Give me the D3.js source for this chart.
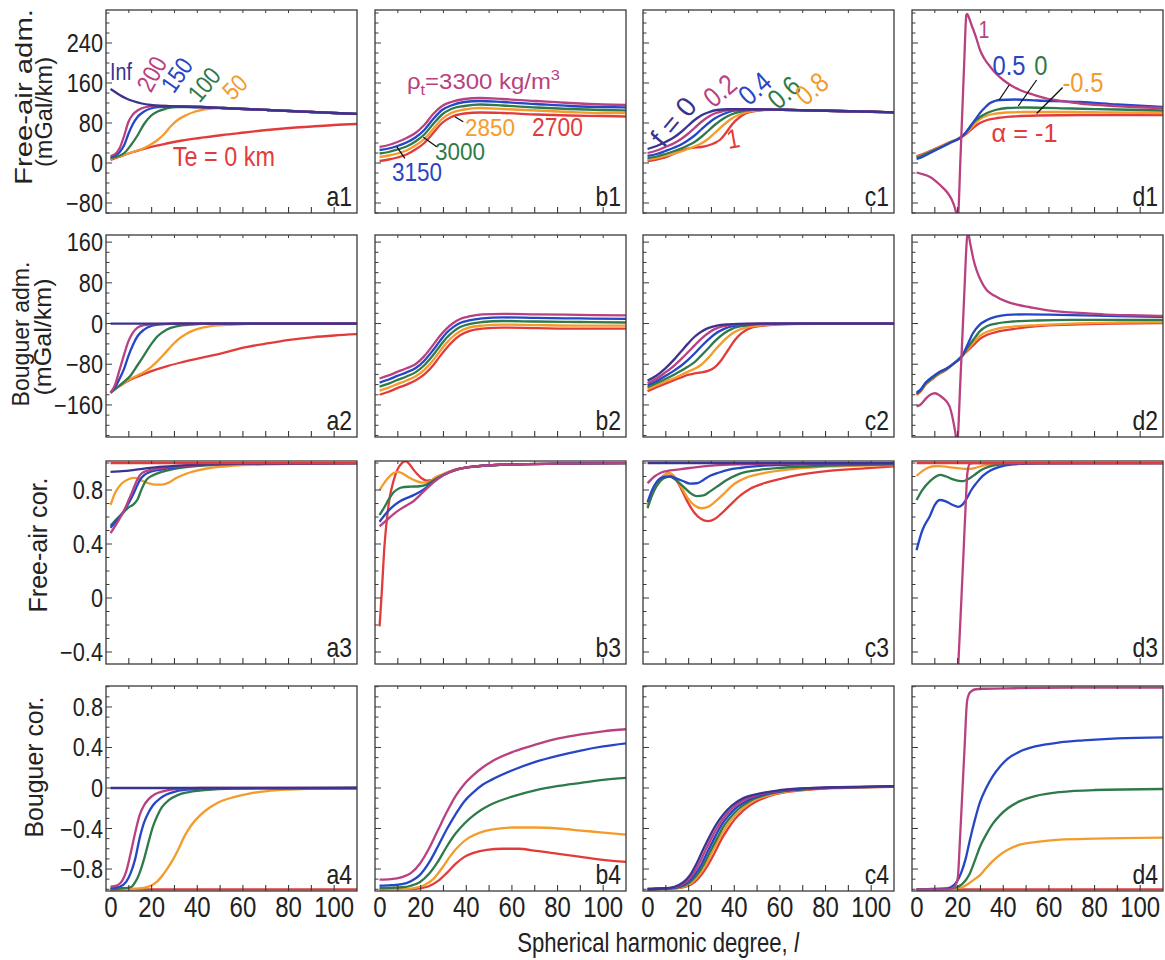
<!DOCTYPE html>
<html>
<head>
<meta charset="utf-8">
<script src="https://cdn.jsdelivr.net/npm/d3@7"></script>
<style>
  body { margin: 0; background: #fff; }
  text { font-family: "Liberation Sans", Arial, Helvetica, sans-serif; }
</style>
</head>
<body>
<svg id="fig" width="1165" height="960"></svg>
<script>
// ---------- colours ----------
const IND = "#3a3390", MAG = "#b9417f", BLU = "#2746c6", GRN = "#2f7a4b", ORG = "#f39b2b", RED = "#e23c3a";

// ---------- axes ----------
const degreeDomain = [0, 110];
const degreeTickValues = [10, 20, 30, 40, 50, 60, 70, 80, 90, 100];
const degreeLabels = [0, 20, 40, 60, 80, 100];
const rowDomains = [[-100, 306], [-223, 174], [-0.489, 1.015], [-1.017, 1.007]];
const rowMajor = [[-80, 0, 80, 160, 240], [-160, -80, 0, 80, 160], [-0.4, 0, 0.4, 0.8], [-0.8, -0.4, 0, 0.4, 0.8]];
const rowMajorText = [["\u221280", "0", "80", "160", "240"], ["\u2212160", "\u221280", "0", "80", "160"],
                      ["\u22120.4", "0", "0.4", "0.8"], ["\u22120.8", "\u22120.4", "0", "0.4", "0.8"]];
const rowMinorStep = [20, 20, 0.1, 0.1];

// ---------- column a : elastic thickness Te ----------
const a1Tail = [[41.2,112],[51,110],[60.8,108],[70.6,106],[80.4,104],[90.2,102],[100,100],[110,98]];
const a1Inf = [[2,148],[4,142],[6,136],[8.9,129],[11.8,124],[15.7,119],[19.6,116],[25.5,114],[31.4,113], ...a1Tail];
const a1T200 = [[2,14],[4,18],[6,30],[8,55],[9.8,82],[11.8,97],[13.8,105],[16.7,111],[21.6,114],[26.5,114],[31.4,113], ...a1Tail];
const a1T150 = [[2,12],[4,15],[6,22],[8,36],[9.8,58],[11.8,78],[13.8,92],[16.7,103],[19.6,109],[23.6,112],[27.5,113],[31.4,113], ...a1Tail];
const a1T100 = [[2,10],[5,13],[8,20],[10.8,35],[13.8,55],[16.7,78],[19.6,94],[22.6,103],[26.5,109],[31.4,112],[36,112], ...a1Tail];
const a1T50 = [[2,8],[6,13],[9.8,19],[13.8,25],[16.7,30],[19.6,37],[22.6,46],[25.5,58],[28.5,74],[31.4,86],[35.3,96],[39.2,103],[44,108],[51,110],[60.8,108],[70.6,106],[80.4,104],[90.2,102],[100,100],[110,98]];
const a1T0 = [[2,6],[5,11],[8,16],[11.8,22],[15.7,27],[19.6,32],[26.5,39],[33.4,45],[41.2,50],[51,56],[60.8,61],[70.6,66],[80.4,70],[90.2,73],[100,76],[110,78]];

const a2Inf = [[2,0],[110,0]];
const a2T200 = [[2,-136],[4,-120],[6,-90],[8,-60],[9.8,-35],[11.8,-18],[13.8,-8],[16.7,-3],[21.6,-1],[31.4,0],[110,0]];
const a2T150 = [[2,-136],[4,-125],[6,-108],[8,-88],[9.8,-64],[11.8,-42],[13.8,-25],[16.7,-12],[19.6,-5],[25.5,-1],[31.4,0],[110,0]];
const a2T100 = [[2,-136],[5,-125],[8,-114],[10.8,-102],[13.8,-82],[16.7,-62],[19.6,-42],[22.6,-25],[26.5,-12],[31.4,-5],[37.3,-2],[46,0],[110,0]];
const a2T50 = [[2,-136],[6,-122],[9.8,-111],[13.8,-102],[16.7,-95],[19.6,-86],[22.6,-74],[25.5,-60],[28.5,-45],[31.4,-32],[35.3,-20],[39.2,-12],[46,-5],[56,-2],[66,0],[110,0]];
const a2T0 = [[2,-136],[5,-126],[8,-117],[11.8,-108],[15.7,-101],[19.6,-94],[26.5,-84],[33.4,-76],[41.2,-68],[51,-58],[60.8,-47],[70.6,-39],[80.4,-32],[90.2,-27],[100,-23.5],[110,-21]];

const a3Inf = [[2,0.935],[7,0.94],[11.8,0.948],[16.7,0.958],[21.6,0.968],[31.4,0.98],[41.2,0.988],[60.8,0.995],[110,1]];
const a3T200 = [[2,0.48],[5,0.56],[8,0.65],[9.8,0.72],[11.8,0.8],[13.8,0.88],[15.7,0.925],[18.7,0.945],[23.6,0.96],[31.4,0.975],[41.2,0.985],[60.8,0.995],[110,1]];
const a3T150 = [[2,0.52],[5,0.58],[8,0.65],[10.8,0.73],[12.8,0.8],[14.7,0.87],[16.7,0.91],[19.6,0.935],[23.6,0.95],[31.4,0.97],[41.2,0.985],[60.8,0.995],[110,1]];
const a3T100 = [[2,0.535],[5,0.59],[8,0.64],[9.8,0.67],[11.8,0.69],[13.8,0.73],[15.7,0.81],[17.7,0.875],[20.6,0.91],[24.5,0.935],[29.4,0.955],[35.3,0.97],[46,0.985],[60.8,0.993],[110,1]];
const a3T50 = [[2,0.69],[4,0.78],[7,0.85],[9.8,0.88],[12.8,0.89],[15.7,0.87],[18.7,0.85],[21.6,0.84],[24.5,0.84],[27.5,0.855],[30.4,0.885],[34.3,0.915],[40.2,0.945],[46,0.965],[56,0.98],[70.6,0.99],[110,1]];
const a3T0 = [[2,1],[110,1]];

const a4Inf = [[2,0],[110,0]];
const a4T200 = [[2,-0.975],[5,-0.96],[7,-0.92],[8.9,-0.82],[10.8,-0.645],[12.8,-0.44],[14.7,-0.27],[16.7,-0.17],[18.7,-0.11],[21.6,-0.06],[24.5,-0.035],[28.5,-0.015],[33.4,-0.005],[41.2,0],[110,0]];
const a4T150 = [[2,-0.99],[6,-0.975],[8.9,-0.925],[10.8,-0.84],[12.8,-0.7],[14.7,-0.5],[16.7,-0.34],[18.7,-0.24],[20.6,-0.17],[23.6,-0.105],[26.5,-0.065],[30.4,-0.035],[36.3,-0.015],[46,-0.003],[110,0]];
const a4T100 = [[2,-1],[7,-0.99],[10.8,-0.98],[12.8,-0.93],[14.7,-0.84],[16.7,-0.7],[18.7,-0.53],[20.6,-0.38],[22.6,-0.27],[24.5,-0.19],[27.5,-0.12],[31.4,-0.07],[36.3,-0.04],[43.2,-0.02],[56,-0.005],[110,0]];
const a4T50 = [[2,-1],[11.8,-0.995],[16.7,-0.985],[19.6,-0.965],[22.6,-0.92],[25.5,-0.84],[28.5,-0.74],[31.4,-0.62],[34.3,-0.48],[37.3,-0.37],[41.2,-0.27],[45,-0.2],[49,-0.145],[56,-0.09],[62.8,-0.055],[70.6,-0.03],[80.4,-0.015],[95,-0.005],[110,0]];
const a4T0 = [[2,-1],[110,-1]];

// ---------- column b : top-layer density ----------
const b1R3300 = [[2,32],[6,36],[9.8,42],[13.8,50],[17.7,60],[21.6,76],[25.5,98],[29.4,114],[33.4,122],[39.2,128],[46,130],[56,128],[70.6,124],[85.3,120],[100,117],[110,116]];
const b1R3150 = [[2,26],[6,29],[9.8,34],[13.8,41],[17.7,51],[21.6,66],[25.5,88],[29.4,106],[33.4,115],[39.2,122],[46,124],[56,122],[70.6,118],[85.3,114],[100,112],[110,111]];
const b1R3000 = [[2,19],[6,22],[9.8,27],[13.8,33],[17.7,43],[21.6,57],[25.5,78],[29.4,97],[33.4,108],[39.2,114],[46,117],[56,115],[70.6,111],[85.3,108],[100,106],[110,105]];
const b1R2850 = [[2,12],[6,15],[9.8,19],[13.8,25],[17.7,35],[21.6,48],[25.5,68],[29.4,88],[33.4,100],[39.2,107],[46,110],[56,108],[70.6,105],[85.3,102],[100,100],[110,100]];
const b1R2700 = [[2,4],[6,7],[9.8,11],[13.8,17],[17.7,27],[21.6,40],[25.5,60],[29.4,80],[33.4,92],[39.2,99],[46,101],[56,100],[70.6,97],[85.3,95],[100,94],[110,93]];

const b2Degree = [2, 6, 9.8, 13.8, 17.7, 21.6, 25.5, 28.5, 31.4, 34.3, 37.3, 41.2, 47, 56, 70.6, 90, 110];
const b2R3300 = [-108,-102,-95,-88,-80,-64,-42,-24,-10,1,9,14,18,19,18,17,16];
const b2R3150 = [-116,-110,-103,-96,-88,-73,-52,-34,-18,-7,1,6,10,12,11,10,9];
const b2R3000 = [-124,-118,-111,-104,-96,-82,-62,-44,-28,-16,-7,-1,3,5,4,3,2];
const b2R2850 = [-132,-126,-119,-112,-104,-91,-72,-54,-38,-25,-15,-8,-4,-2,-3,-4,-4];
const b2R2700 = [-140,-134,-127,-120,-112,-100,-82,-64,-48,-34,-23,-15,-10,-8,-9,-10,-10];

const b3R3300 = [[2,0.53],[5,0.575],[8,0.62],[10.8,0.655],[13.8,0.685],[16.7,0.715],[19.6,0.76],[22.6,0.81],[25.5,0.855],[28.5,0.895],[32.4,0.93],[37.3,0.958],[46,0.978],[60.8,0.99],[80.4,0.995],[110,1]];
const b3R3150 = [[2,0.565],[5,0.63],[8,0.68],[10.8,0.715],[13.8,0.74],[16.7,0.76],[19.6,0.785],[22.6,0.82],[25.5,0.86],[28.5,0.895],[32.4,0.93],[37.3,0.958],[46,0.978],[60.8,0.99],[80.4,0.995],[110,1]];
const b3R3000 = [[2,0.615],[4,0.67],[6,0.73],[8,0.78],[9.8,0.805],[11.8,0.82],[15.7,0.825],[19.6,0.828],[22.6,0.84],[25.5,0.87],[28.5,0.9],[32.4,0.93],[37.3,0.958],[46,0.978],[60.8,0.99],[80.4,0.995],[110,1]];
const b3R2850 = [[2,0.8],[5,0.875],[8,0.925],[9.8,0.935],[11.8,0.925],[14.7,0.895],[17.7,0.87],[20.6,0.855],[23.6,0.86],[26.5,0.895],[29.4,0.915],[33.4,0.94],[38.3,0.962],[46,0.978],[60.8,0.99],[80.4,0.995],[110,1]];
const b3R2700 = [[2,-0.21],[3,0.05],[4,0.35],[5,0.55],[6.4,0.74],[8,0.86],[9.8,0.95],[11.8,1.0],[13.3,1.012],[14.7,1.0],[16.7,0.955],[18.7,0.915],[20.6,0.885],[22.6,0.87],[25.5,0.875],[28.5,0.905],[32.4,0.935],[37.3,0.96],[43.2,0.975],[51,0.985],[60.8,0.99],[80.4,0.995],[110,1]];

const b4R3300 = [[2,-0.905],[7,-0.9],[11.8,-0.88],[15.7,-0.84],[19.6,-0.75],[23.6,-0.6],[27.5,-0.42],[31.4,-0.24],[35.3,-0.08],[39.2,0.04],[43.2,0.13],[47,0.2],[51,0.26],[60.8,0.36],[70.6,0.43],[80.4,0.49],[90.2,0.53],[100,0.56],[110,0.58]];
const b4R3150 = [[2,-0.965],[7,-0.96],[11.8,-0.95],[15.7,-0.92],[19.6,-0.86],[23.6,-0.74],[27.5,-0.58],[31.4,-0.41],[35.3,-0.26],[39.2,-0.13],[43.2,-0.04],[47,0.03],[51,0.08],[60.8,0.18],[70.6,0.26],[80.4,0.32],[90.2,0.37],[100,0.41],[110,0.44]];
const b4R3000 = [[2,-0.99],[11.8,-0.98],[15.7,-0.965],[19.6,-0.93],[23.6,-0.85],[27.5,-0.73],[31.4,-0.58],[35.3,-0.45],[39.2,-0.35],[43.2,-0.27],[47,-0.21],[51,-0.16],[60.8,-0.08],[70.6,-0.02],[80.4,0.02],[90.2,0.05],[100,0.08],[110,0.1]];
const b4R2850 = [[2,-1],[13.8,-0.995],[17.7,-0.985],[21.6,-0.96],[25.5,-0.9],[29.4,-0.79],[33.4,-0.66],[37.3,-0.56],[41.2,-0.49],[46,-0.44],[51,-0.41],[60.8,-0.39],[70.6,-0.39],[80.4,-0.4],[90.2,-0.42],[100,-0.44],[110,-0.46]];
const b4R2700 = [[2,-1],[15.7,-0.998],[19.6,-0.99],[23.6,-0.97],[27.5,-0.92],[31.4,-0.84],[35.3,-0.75],[39.2,-0.68],[43.2,-0.64],[49,-0.61],[56,-0.6],[62.8,-0.6],[70.6,-0.62],[80.4,-0.65],[90.2,-0.68],[100,-0.71],[110,-0.73]];

// ---------- column c : loading ratio f ----------
const c1Tail = [[70.6,105.5],[80.4,104.5],[90.2,103.5],[100,102.5],[110,101.5]];
const c1F0 = [[2,28],[6,34],[9.8,42],[13.8,52],[16.7,62],[19.6,74],[22.6,86],[25.5,95],[28.5,101],[32.4,106],[37.3,107.5],[46,107.5],[60.8,106.5], ...c1Tail];
const c1F02 = [[2,20],[6,25],[9.8,32],[13.8,40],[16.7,48],[19.6,58],[22.6,70],[25.5,82],[28.5,92],[31.4,99],[35.3,104],[41.2,107],[51,107.3],[60.8,106.5], ...c1Tail];
const c1F04 = [[2,14],[6,18],[9.8,24],[13.8,31],[16.7,37],[19.6,45],[22.6,55],[25.5,67],[28.5,79],[31.4,89],[35.3,98],[39.2,104],[45,107],[51,107.3],[60.8,106.5], ...c1Tail];
const c1F06 = [[2,10],[6,13],[9.8,18],[13.8,24],[16.7,29],[19.6,35],[22.6,42],[25.5,52],[28.5,64],[31.4,76],[35.3,89],[39.2,98],[45,105],[51,107],[60.8,106.5], ...c1Tail];
const c1F08 = [[2,7],[6,10],[9.8,14],[13.8,19],[16.7,23],[19.6,28],[22.6,33],[25.5,39],[28.5,48],[31.4,60],[35.3,76],[39.2,90],[45,101],[51,106],[60.8,106.5], ...c1Tail];
const c1F1 = [[2,4],[6,7],[9.8,11],[13.8,19],[16.7,25],[19.6,29],[22.6,31],[25.5,32],[28.5,35],[31.4,40],[33.9,47],[36.3,60],[39.2,78],[42.2,91],[45,99],[49,104],[56,106.5],[60.8,106.5], ...c1Tail];

const c2F0 = [[2,-112],[6,-102],[9.8,-88],[13.8,-70],[16.7,-55],[19.6,-40],[22.6,-26],[25.5,-16],[28.5,-9],[32.4,-4],[37.3,-1.5],[46,0],[110,0]];
const c2F02 = [[2,-117],[6,-108],[9.8,-96],[13.8,-82],[16.7,-70],[19.6,-57],[22.6,-43],[25.5,-30],[28.5,-19],[31.4,-11],[35.3,-5],[41.2,-2],[51,0],[110,0]];
const c2F04 = [[2,-121],[6,-113],[9.8,-103],[13.8,-92],[16.7,-83],[19.6,-72],[22.6,-59],[25.5,-45],[28.5,-32],[31.4,-21],[35.3,-11],[39.2,-5],[46,-2],[56,0],[110,0]];
const c2F06 = [[2,-125],[6,-117],[9.8,-109],[13.8,-100],[16.7,-93],[19.6,-85],[22.6,-76],[25.5,-63],[28.5,-49],[31.4,-35],[35.3,-20],[39.2,-10],[45,-4],[53,-1],[60.8,0],[110,0]];
const c2F08 = [[2,-129],[6,-121],[9.8,-114],[13.8,-107],[16.7,-101],[19.6,-95],[22.6,-89],[25.5,-81],[28.5,-68],[31.4,-53],[35.3,-34],[39.2,-19],[45,-8],[53,-3],[62.8,-1],[110,0]];
const c2F1 = [[2,-133],[6,-125],[9.8,-118],[13.8,-111],[16.7,-106],[19.6,-101],[22.6,-98],[25.5,-96],[28.5,-93],[31.4,-86],[34.3,-72],[37.3,-52],[40.2,-33],[43.2,-19],[47,-9],[53,-4],[60.8,-1.5],[70.6,0],[110,0]];

const c3F0 = [[2,1],[110,1]];
const c3F02 = [[2,0.85],[5,0.9],[8,0.93],[11.8,0.945],[16.7,0.955],[23.6,0.97],[31.4,0.982],[41.2,0.99],[60.8,0.996],[110,1]];
const c3F04 = [[2,0.71],[4,0.8],[6,0.86],[8.9,0.895],[11.8,0.9],[14.7,0.885],[17.7,0.865],[20.6,0.848],[23.6,0.85],[26.5,0.875],[29.4,0.905],[33.4,0.93],[37.3,0.95],[43.2,0.965],[53,0.98],[70.6,0.99],[110,0.998]];
const c3F06 = [[2,0.665],[4,0.76],[6,0.83],[8.9,0.885],[11.8,0.9],[14.7,0.87],[17.7,0.825],[20.6,0.78],[23.6,0.755],[26.5,0.76],[29.4,0.79],[32.4,0.825],[36.3,0.87],[42.2,0.92],[51,0.95],[60.8,0.965],[80.4,0.98],[110,0.99]];
const c3F08 = [[2,0.68],[4,0.77],[6,0.84],[8.9,0.9],[11.3,0.925],[13.8,0.9],[16.7,0.825],[19.6,0.74],[22.6,0.685],[25.5,0.665],[28.5,0.675],[31.4,0.71],[35.3,0.77],[39.2,0.835],[45,0.89],[53,0.925],[65.7,0.955],[82.4,0.975],[110,0.985]];
const c3F1 = [[2,0.69],[4,0.78],[6,0.85],[8.9,0.905],[11.3,0.925],[13.8,0.895],[16.7,0.81],[19.6,0.71],[22.6,0.63],[25.5,0.585],[28.5,0.57],[31.4,0.585],[34.3,0.625],[38.3,0.69],[42.7,0.76],[47,0.81],[53,0.85],[60.8,0.885],[67.7,0.91],[80.4,0.94],[97,0.96],[110,0.975]];

const c4F0 = [[2,-0.995],[9.8,-0.99],[13.8,-0.975],[17.7,-0.93],[20.6,-0.86],[23.6,-0.74],[26.5,-0.6],[29.4,-0.47],[32.4,-0.35],[35.3,-0.26],[39.2,-0.17],[44,-0.1],[49,-0.065],[58.8,-0.025],[68.6,-0.005],[80.4,0.005],[95,0.012],[110,0.018]];
const c4F02 = [[2,-1],[10.8,-0.99],[14.7,-0.975],[18.7,-0.93],[21.6,-0.86],[24.5,-0.75],[27.5,-0.61],[30.4,-0.48],[33.4,-0.36],[36.3,-0.27],[40.2,-0.18],[45,-0.11],[50,-0.07],[59.8,-0.028],[69.6,-0.008],[80.4,0.003],[95,0.01],[110,0.016]];
const c4F04 = [[2,-1],[11.8,-0.99],[15.7,-0.975],[19.6,-0.93],[22.6,-0.86],[25.5,-0.76],[28.5,-0.62],[31.4,-0.49],[34.3,-0.37],[37.3,-0.28],[41.2,-0.19],[46,-0.12],[51,-0.075],[60.8,-0.03],[70.6,-0.01],[80.4,0.002],[95,0.009],[110,0.015]];
const c4F06 = [[2,-1],[12.8,-0.99],[16.7,-0.975],[20.6,-0.93],[23.6,-0.86],[26.5,-0.76],[29.4,-0.63],[32.4,-0.5],[35.3,-0.38],[38.3,-0.29],[42.2,-0.2],[47,-0.125],[52,-0.08],[61.8,-0.032],[71.6,-0.012],[80.4,0],[95,0.008],[110,0.014]];
const c4F08 = [[2,-1],[13.8,-0.99],[17.7,-0.975],[21.6,-0.93],[24.5,-0.86],[27.5,-0.76],[30.4,-0.63],[33.4,-0.5],[36.3,-0.39],[39.2,-0.3],[43.2,-0.21],[48,-0.13],[53,-0.085],[62.8,-0.035],[72.6,-0.013],[82.4,0],[95,0.007],[110,0.013]];
const c4F1 = [[2,-1],[14.7,-0.99],[18.7,-0.975],[22.6,-0.93],[25.5,-0.86],[28.5,-0.76],[31.4,-0.64],[34.3,-0.51],[37.3,-0.4],[40.2,-0.31],[44,-0.22],[49,-0.14],[54,-0.09],[63.8,-0.037],[73.6,-0.015],[83.4,-0.002],[95,0.006],[110,0.012]];

// ---------- column d : load correlation alpha ----------
const d1A1 = [[2,-19],[3.5,-21],[7.9,-28],[12.3,-44],[15.3,-58],[17.5,-74],[18.8,-90],[19.5,-102],[19.9,-112],[20.3,-100],[21.2,5],[22.1,110],[23,215],[23.5,275],[23.8,296],[24.2,298],[25.1,289],[26.1,276],[27,265],[28.3,248],[29.8,226],[31.8,208],[34.2,193],[37,178],[40,166],[43.5,155],[47.3,146],[53,137],[59,129],[66,124],[73.6,119],[85,115],[97,112],[110,110]];
const d1A05 = [[2,8],[3.5,10],[7.9,20],[12.3,30],[16.7,40],[21,50],[21.9,53],[23.6,61],[25.4,72],[27.6,86],[29.8,100],[32,111],[34.2,120],[36.3,124],[38.5,126],[45,127],[55,125],[73.6,122],[90,117],[110,112]];
const d1A0 = [[2,11],[3.5,13],[7.9,22],[12.3,31],[16.7,41],[21,50],[21.9,53],[24,63],[26.7,80],[29.8,92],[32.9,100],[36.5,106],[41.6,110],[50,111],[70,109],[90,107],[110,105]];
const d1Am05 = [[2,12],[3.5,14],[7.9,23],[12.3,32],[16.7,42],[21,50],[21.9,53],[24,61],[26.7,74],[29.8,88],[33,95],[37,99],[41.5,101],[50,102],[70,102],[90,101],[110,100]];
const d1Am1 = [[2,14],[3.5,16],[7.9,24],[12.3,33],[16.7,42],[21,50],[21.9,53],[24,59],[26.7,70],[29.8,80],[33,86],[37.5,90],[44.2,93],[55,95],[75,96],[95,96],[110,96]];

const d2A1 = [[2,-163],[3.5,-160],[6,-148],[8,-140],[10.1,-137],[12.3,-142],[14,-148],[15.3,-154],[16.7,-166],[18,-190],[19,-215],[19.6,-235],[20.1,-223],[21,-133],[22,-33],[23,67],[23.8,147],[24.3,178],[24.8,175],[25.4,160],[26.1,144],[27,125],[28.3,105],[30,86],[32.7,66],[36,55],[41.5,43],[46,37],[51.7,32],[58,27],[66.1,23],[77,20],[88,17],[100,16],[110,15]];
const d2A05 = [[2,-136],[3.5,-131],[6,-116],[9.2,-104],[12,-95],[15.3,-88],[18.5,-78],[21.9,-64],[24.3,-42],[26.7,-19],[29.5,-3],[32.9,7],[36.5,13],[41.6,17],[50,18],[60,17.5],[75,16],[90,14.5],[110,13]];
const d2A0 = [[2,-138],[3.5,-133],[6,-118],[9.2,-106],[12,-97],[15.3,-89],[18.5,-78],[21.9,-64],[24.5,-47],[27,-31],[29.8,-15],[33,-5],[37,0],[44.2,4],[55,6],[70,7],[90,7],[110,7]];
const d2Am05 = [[2,-139],[3.5,-134],[6,-119],[9.2,-107],[12,-98],[15.3,-89],[18.5,-78],[21.9,-64],[24.5,-50],[27,-37],[29.8,-24],[33,-16],[37.5,-10],[44.2,-6],[55,-3],[70,0],[90,2],[110,3]];
const d2Am1 = [[2,-140],[3.5,-135],[6,-120],[9.2,-108],[12,-99],[15.3,-90],[18.5,-78],[21.9,-64],[24.5,-53],[27,-42],[29.8,-30],[33,-22],[37.5,-16],[44.2,-11],[55,-5],[70,-2],[90,0],[110,1]];

const d3A1 = [[2,-1],[18,-1],[19.2,-0.85],[20.3,-0.49],[21.5,-0.06],[22.7,0.38],[23.6,0.72],[24.3,0.93],[25.4,0.995],[27,1],[110,1]];
const d3A05 = [[2,0.355],[4.5,0.5],[7.9,0.61],[10,0.69],[12.3,0.726],[14.5,0.718],[16.6,0.7],[18.5,0.685],[20.3,0.675],[22,0.69],[24,0.738],[26,0.8],[28.3,0.853],[31,0.905],[34.2,0.943],[38,0.97],[44.4,0.99],[55,0.997],[110,1]];
const d3A0 = [[2,0.726],[4.5,0.8],[7.9,0.866],[10,0.895],[12.3,0.912],[15,0.9],[18,0.879],[20.5,0.868],[22.5,0.866],[24.5,0.88],[26.8,0.905],[30,0.945],[34.2,0.975],[40,0.99],[55,0.998],[110,1]];
const d3Am05 = [[2,0.905],[4.5,0.94],[7,0.965],[9.3,0.976],[12,0.977],[16,0.97],[20,0.962],[23,0.957],[25.4,0.956],[28,0.965],[31,0.98],[36,0.992],[45,0.998],[110,1]];
const d3Am1 = [[2,1],[110,1]];

const d4A1 = [[2,-1],[16,-1],[18,-0.99],[19.3,-0.95],[20.1,-0.88],[21,-0.52],[22,-0.07],[23,0.38],[24.1,0.85],[25,0.93],[26.3,0.96],[28,0.975],[32,0.98],[45,0.985],[70,0.99],[110,0.99]];
const d4A05 = [[2,-1],[14,-0.995],[17,-0.98],[19.5,-0.93],[21.5,-0.84],[23.5,-0.7],[25.4,-0.51],[27.5,-0.32],[29.8,-0.14],[32.5,0],[35.5,0.12],[38.5,0.21],[42,0.29],[47.3,0.36],[54,0.41],[64.8,0.45],[75,0.47],[90,0.49],[110,0.5]];
const d4A0 = [[2,-1],[16,-0.995],[19,-0.985],[22,-0.95],[25,-0.86],[27.5,-0.72],[29.8,-0.58],[32.5,-0.46],[35.5,-0.35],[38.5,-0.27],[42,-0.2],[47.3,-0.13],[54,-0.08],[64.8,-0.04],[80,-0.02],[110,-0.01]];
const d4Am05 = [[2,-1],[18,-0.995],[22,-0.98],[25,-0.94],[27.5,-0.9],[29.8,-0.86],[32.5,-0.79],[35.5,-0.72],[38.5,-0.66],[42,-0.61],[47.3,-0.56],[54,-0.535],[64.8,-0.51],[80,-0.5],[110,-0.49]];
const d4Am1 = [[2,-1],[110,-1]];

// ---------- panel grid ----------
const colLeft = [106, 375, 643, 912];
const colWidth = 251;
const rowTopBottom = [[10, 213], [235, 437], [461, 664], [686, 891]];

const panels = [
  { tag: "a1", c: 0, r: 0, series: [[a1T0, RED], [a1T50, ORG], [a1T100, GRN], [a1T150, BLU], [a1T200, MAG], [a1Inf, IND]] },
  { tag: "a2", c: 0, r: 1, series: [[a2T0, RED], [a2T50, ORG], [a2T100, GRN], [a2T150, BLU], [a2T200, MAG], [a2Inf, IND]] },
  { tag: "a3", c: 0, r: 2, series: [[a3T50, ORG], [a3T100, GRN], [a3T150, BLU], [a3T200, MAG], [a3Inf, IND], [a3T0, RED]] },
  { tag: "a4", c: 0, r: 3, series: [[a4T0, RED], [a4T50, ORG], [a4T100, GRN], [a4T150, BLU], [a4T200, MAG], [a4Inf, IND]] },
  { tag: "b1", c: 1, r: 0, series: [[b1R2700, RED], [b1R2850, ORG], [b1R3000, GRN], [b1R3150, BLU], [b1R3300, MAG]] },
  { tag: "b2", c: 1, r: 1, series: [[d3.zip(b2Degree, b2R2700), RED], [d3.zip(b2Degree, b2R2850), ORG], [d3.zip(b2Degree, b2R3000), GRN], [d3.zip(b2Degree, b2R3150), BLU], [d3.zip(b2Degree, b2R3300), MAG]] },
  { tag: "b3", c: 1, r: 2, series: [[b3R2700, RED], [b3R2850, ORG], [b3R3000, GRN], [b3R3150, BLU], [b3R3300, MAG]] },
  { tag: "b4", c: 1, r: 3, series: [[b4R2700, RED], [b4R2850, ORG], [b4R3000, GRN], [b4R3150, BLU], [b4R3300, MAG]] },
  { tag: "c1", c: 2, r: 0, series: [[c1F1, RED], [c1F08, ORG], [c1F06, GRN], [c1F04, BLU], [c1F02, MAG], [c1F0, IND]] },
  { tag: "c2", c: 2, r: 1, series: [[c2F1, RED], [c2F08, ORG], [c2F06, GRN], [c2F04, BLU], [c2F02, MAG], [c2F0, IND]] },
  { tag: "c3", c: 2, r: 2, series: [[c3F1, RED], [c3F08, ORG], [c3F06, GRN], [c3F04, BLU], [c3F02, MAG], [c3F0, IND]] },
  { tag: "c4", c: 2, r: 3, series: [[c4F1, RED], [c4F08, ORG], [c4F06, GRN], [c4F04, BLU], [c4F02, MAG], [c4F0, IND]] },
  { tag: "d1", c: 3, r: 0, series: [[d1Am1, RED], [d1Am05, ORG], [d1A0, GRN], [d1A05, BLU], [d1A1, MAG]] },
  { tag: "d2", c: 3, r: 1, series: [[d2Am1, RED], [d2Am05, ORG], [d2A0, GRN], [d2A05, BLU], [d2A1, MAG]] },
  { tag: "d3", c: 3, r: 2, series: [[d3Am05, ORG], [d3A0, GRN], [d3A05, BLU], [d3A1, MAG], [d3Am1, RED]] },
  { tag: "d4", c: 3, r: 3, series: [[d4Am1, RED], [d4Am05, ORG], [d4A0, GRN], [d4A05, BLU], [d4A1, MAG]] }
];

const svg = d3.select("#fig");
const FRAME = "#3a3a3a";

// text helper: condensed sans, optional rotation and forced length
function label(parent, s, x, y, o = {}) {
  let tr = `translate(${x},${y})`;
  if (o.rot) tr += ` rotate(${o.rot})`;
  if (!o.len) tr += ` scale(${o.sx || 0.85},1)`;
  const t = parent.append("text")
    .attr("transform", tr)
    .attr("text-anchor", o.anchor || "start")
    .attr("font-size", o.size || 24)
    .attr("fill", o.color || "#222")
    .attr("dy", o.dy || 0);
  if (o.len) t.attr("textLength", o.len).attr("lengthAdjust", "spacingAndGlyphs");
  t.text(s);
  return t;
}

const scales = {};
panels.forEach(p => {
  const x0 = colLeft[p.c], [yTop, yBot] = rowTopBottom[p.r];
  const x = d3.scaleLinear().domain(degreeDomain).range([x0, x0 + colWidth]);
  const y = d3.scaleLinear().domain(rowDomains[p.r]).range([yBot, yTop]);
  scales[p.tag] = { x, y };
  const g = svg.append("g");

  const clipId = "clip-" + p.tag;
  svg.append("clipPath").attr("id", clipId)
    .append("rect").attr("x", x0).attr("y", yTop).attr("width", colWidth).attr("height", yBot - yTop);

  const line = d3.line().x(d => x(d[0])).y(d => y(d[1])).curve(d3.curveMonotoneX);
  const lg = g.append("g").attr("clip-path", `url(#${clipId})`);
  p.series.forEach(([pts, col]) => {
    lg.append("path").attr("d", line(pts)).attr("fill", "none")
      .attr("stroke", col).attr("stroke-width", 2.3).attr("stroke-linejoin", "round");
  });

  // frame
  g.append("rect").attr("x", x0).attr("y", yTop).attr("width", colWidth).attr("height", yBot - yTop)
    .attr("fill", "none").attr("stroke", FRAME).attr("stroke-width", 1.3);

  // degree ticks on bottom and top edges
  degreeTickValues.forEach(v => {
    g.append("line").attr("x1", x(v)).attr("x2", x(v)).attr("y1", yBot).attr("y2", yBot - 6)
      .attr("stroke", FRAME).attr("stroke-width", 1.1);
    g.append("line").attr("x1", x(v)).attr("x2", x(v)).attr("y1", yTop).attr("y2", yTop + 3)
      .attr("stroke", FRAME).attr("stroke-width", 1);
  });

  // value ticks on the left edge
  const [lo, hi] = rowDomains[p.r];
  const step = rowMinorStep[p.r];
  d3.range(Math.ceil(lo / step) * step, hi, step).forEach(v => {
    const isMajor = rowMajor[p.r].some(m => Math.abs(m - v) < step * 0.01);
    g.append("line").attr("x1", x0).attr("x2", x0 + (isMajor ? 6 : 3.5))
      .attr("y1", y(v)).attr("y2", y(v)).attr("stroke", FRAME).attr("stroke-width", 1);
  });

  // value labels on the first column
  if (p.c === 0) {
    rowMajor[p.r].forEach((v, i) => {
      label(svg, rowMajorText[p.r][i], x0 - 3, y(v), { anchor: "end", size: 25, sx: 0.87, dy: "0.36em" });
    });
  }

  // degree labels on the bottom row
  if (p.r === 3) {
    degreeLabels.forEach(v => {
      label(svg, String(v), x(v) + (v === 0 ? 5 : 0), 917, { anchor: "middle", size: 30, sx: 0.8 });
    });
  }

  // panel tag
  label(svg, p.tag, x0 + colWidth - 5, yBot - 7, { anchor: "end", size: 28, sx: 0.82 });
});

// ---------- axis titles ----------
label(svg, "Free-air adm.", 32, 97, { rot: -90, anchor: "middle", size: 24, len: 176 });
label(svg, "(mGal/km)", 52, 112, { rot: -90, anchor: "middle", size: 24, len: 110 });
label(svg, "Bouguer adm.", 29, 334, { rot: -90, anchor: "middle", size: 24, len: 145 });
label(svg, "(mGal/km)", 51, 337, { rot: -90, anchor: "middle", size: 24, len: 117 });
label(svg, "Free-air cor.", 47, 545, { rot: -90, anchor: "middle", size: 26, len: 135 });
label(svg, "Bouguer cor.", 43, 767, { rot: -90, anchor: "middle", size: 26, len: 141 });

{
  const xt = svg.append("text").attr("transform", "translate(658,952) scale(0.82,1)")
    .attr("text-anchor", "middle").attr("font-size", 27).attr("fill", "#222");
  xt.append("tspan").text("Spherical harmonic degree, ");
  xt.append("tspan").attr("font-style", "italic").text("l");
}

// ---------- curve annotations ----------
function at(tag, l, v) { const s = scales[tag]; return [s.x(l), s.y(v)]; }
function leader(tag, l1, v1, l2, v2) {
  const [xa, ya] = at(tag, l1, v1), [xb, yb] = at(tag, l2, v2);
  svg.append("line").attr("x1", xa).attr("y1", ya).attr("x2", xb).attr("y2", yb)
    .attr("stroke", "#111").attr("stroke-width", 1.3);
}
function note(tag, s, l, v, o) { const [px, py] = at(tag, l, v); return label(svg, s, px, py, o); }

// a1: elastic thickness
note("a1", "Inf", 1.75, 166, { size: 24, color: IND, sx: 0.82 });
note("a1", "200", 20, 178, { size: 25, color: MAG, rot: -62, anchor: "middle", dy: "0.35em" });
note("a1", "150", 31, 176, { size: 25, color: BLU, rot: -55, anchor: "middle", dy: "0.35em" });
note("a1", "100", 43, 157, { size: 25, color: GRN, rot: -50, anchor: "middle", dy: "0.35em" });
note("a1", "50", 56.5, 152, { size: 25, color: ORG, rot: -45, anchor: "middle", dy: "0.35em" });
note("a1", "Te = 0 km", 29.3, -6, { size: 27, color: RED, len: 102 });

// b1: top density
{
  const [px, py] = at("b1", 14, 149);
  const t = svg.append("text").attr("x", px).attr("y", py).attr("font-size", 22).attr("fill", MAG)
    .attr("textLength", 153).attr("lengthAdjust", "spacingAndGlyphs");
  t.append("tspan").text("\u03c1");
  t.append("tspan").attr("font-size", 15).attr("dy", 6).text("t");
  t.append("tspan").attr("dy", -6).text("=3300 kg/m");
  t.append("tspan").attr("font-size", 15).attr("dy", -9).text("3");
}
note("b1", "3150", 7.4, -36, { size: 25, color: BLU, len: 50 });
note("b1", "3000", 26.3, 7, { size: 24, color: GRN, len: 50 });
note("b1", "2850", 39.4, 55, { size: 24, color: ORG, len: 50 });
note("b1", "2700", 68.8, 55, { size: 25, color: RED, len: 51 });
leader("b1", 9.5, 32.6, 13.1, 9.4);
leader("b1", 21.2, 51.4, 27, 32.6);
leader("b1", 35, 92.6, 38.7, 82.6);

// c1: loading ratio
note("c1", "f = 0", 13.3, 83, { size: 28, color: IND, rot: -50, anchor: "middle", dy: "0.35em", len: 54 });
note("c1", "0.2", 33.7, 145, { size: 28, color: MAG, rot: -40, anchor: "middle", dy: "0.35em" });
note("c1", "0.4", 49, 149, { size: 28, color: BLU, rot: -42, anchor: "middle", dy: "0.35em" });
note("c1", "0.6", 61.8, 141, { size: 28, color: GRN, rot: -42, anchor: "middle", dy: "0.35em" });
note("c1", "0.8", 73.9, 149, { size: 28, color: ORG, rot: -40, anchor: "middle", dy: "0.35em" });
note("c1", "1", 39.5, 49, { size: 27, color: RED, rot: -10, anchor: "middle", dy: "0.35em" });

// d1: load correlation
note("d1", "1", 31.5, 250, { size: 23, color: MAG, anchor: "middle" });
note("d1", "0.5", 42.5, 176, { size: 28, color: BLU, anchor: "middle", len: 33 });
note("d1", "0", 56.5, 176, { size: 28, color: GRN, anchor: "middle" });
note("d1", "-0.5", 74.9, 142, { size: 28, color: ORG, anchor: "middle", len: 41 });
note("d1", "\u03b1 = -1", 49.3, 42, { size: 26, color: RED, anchor: "middle", len: 66 });
leader("d1", 42.6, 156, 38.2, 126);
leader("d1", 54.6, 166, 46.6, 114);
leader("d1", 66, 151, 54.6, 99);
</script>
</body>
</html>
